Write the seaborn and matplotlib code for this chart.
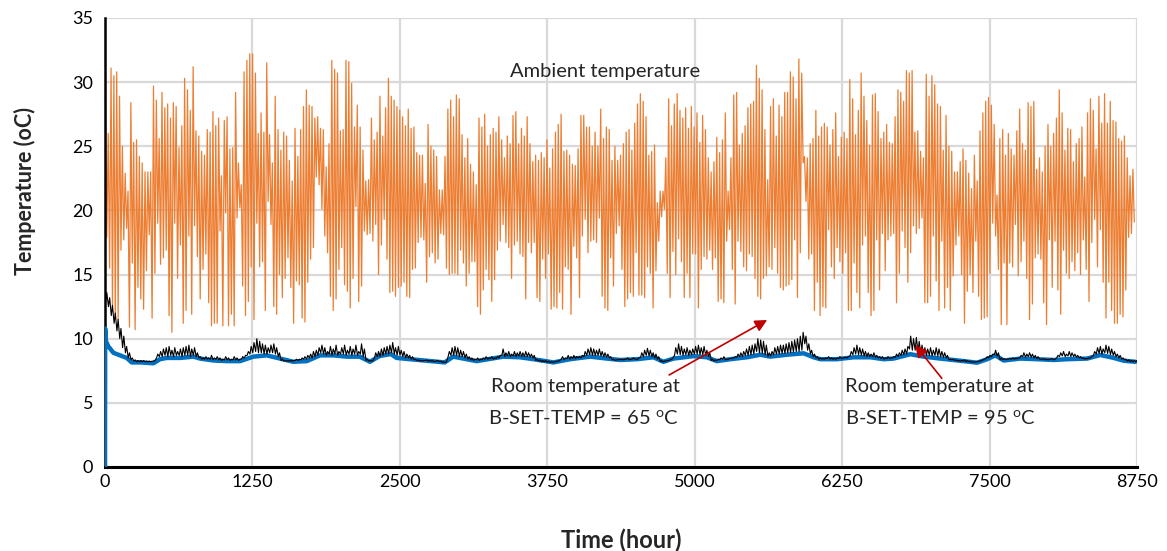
import numpy as np
import pandas as pd
import matplotlib
matplotlib.use("Agg")
import matplotlib.pyplot as plt
import seaborn as sns

# ---------------- data ----------------
# Ambient temperature: daily peak and daily trough (oC), one value per day
ambient_peaks = [
    30.5, 26.0, 31.1, 30.5, 30.8, 28.9, 25.0, 22.9, 21.5, 28.4,
    25.3, 25.5, 24.2, 23.7, 23.0, 23.0, 23.0, 29.7, 28.6, 25.6,
    29.2, 28.0, 28.3, 27.2, 28.4, 28.1, 24.9, 26.6, 30.3, 29.4,
    27.8, 31.2, 26.2, 25.8, 24.6, 24.3, 26.3, 26.1, 27.7, 26.6,
    27.2, 22.7, 27.0, 27.3, 24.8, 24.9, 29.2, 23.7, 22.0, 30.8,
    31.7, 32.2, 32.2, 30.7, 26.0, 27.6, 26.1, 31.5, 25.9, 23.7,
    28.9, 26.3, 24.7, 26.1, 25.8, 23.9, 22.3, 26.4, 24.2, 26.3,
    28.1, 29.4, 28.2, 28.1, 27.2, 27.3, 26.4, 26.3, 23.4, 25.2,
    31.7, 31.0, 30.7, 26.2, 26.3, 31.7, 31.6, 29.9, 26.5, 28.2,
    26.5, 24.7, 22.3, 22.4, 27.2, 25.5, 26.1, 28.9, 25.8, 28.0,
    30.3, 28.9, 28.6, 28.1, 27.8, 27.3, 26.6, 27.9, 26.4, 26.5,
    24.5, 24.3, 24.3, 22.1, 26.7, 25.0, 24.7, 24.2, 21.6, 21.6,
    24.2, 27.9, 28.6, 27.3, 29.0, 28.7, 25.9, 24.1, 25.6, 23.6,
    23.0, 22.0, 27.2, 26.5, 27.5, 25.0, 25.9, 26.4, 26.1, 27.3,
    25.5, 24.1, 25.8, 25.2, 27.4, 27.7, 25.2, 26.4, 25.8, 27.3,
    25.2, 23.8, 24.3, 23.9, 24.5, 24.1, 25.5, 23.3, 24.8, 26.1,
    26.7, 27.5, 24.6, 24.7, 24.3, 23.6, 23.5, 24.8, 27.4, 27.4,
    26.5, 26.5, 25.0, 26.1, 25.0, 27.9, 25.6, 26.5, 26.3, 23.9,
    25.0, 23.9, 24.3, 25.2, 26.1, 26.3, 24.7, 26.8, 28.3, 29.1,
    28.5, 27.3, 24.3, 24.6, 25.1, 20.6, 21.5, 21.5, 24.1, 28.7,
    26.6, 28.3, 29.1, 27.8, 27.2, 28.0, 26.4, 28.1, 26.5, 27.6,
    25.3, 27.4, 26.3, 24.1, 23.0, 23.8, 25.7, 24.5, 25.5, 27.6,
    21.5, 24.1, 29.0, 29.2, 25.1, 26.0, 26.6, 28.0, 28.3, 28.5,
    31.3, 30.3, 29.4, 26.3, 22.4, 28.1, 28.7, 25.8, 28.2, 27.3,
    29.2, 29.2, 30.8, 30.4, 28.7, 31.8, 30.7, 24.2, 24.1, 25.2,
    25.6, 27.8, 25.8, 26.5, 26.8, 26.5, 25.1, 26.3, 27.6, 24.2,
    25.7, 26.1, 25.6, 30.2, 28.7, 25.9, 27.8, 30.7, 28.9, 27.0,
    25.1, 29.0, 29.1, 27.7, 25.6, 26.1, 26.7, 25.3, 25.2, 27.3,
    29.4, 29.2, 28.5, 30.9, 30.7, 30.9, 26.1, 26.2, 24.6, 24.1,
    30.6, 28.9, 30.5, 29.8, 28.3, 28.1, 24.7, 27.4, 25.0, 24.6,
    23.0, 23.0, 23.8, 24.8, 23.9, 22.9, 21.7, 24.3, 22.3, 26.2,
    27.6, 28.5, 28.8, 28.2, 26.7, 21.2, 25.6, 26.3, 24.3, 26.0,
    24.8, 24.3, 26.2, 27.9, 25.2, 24.7, 28.4, 28.1, 28.5, 23.2,
    24.1, 23.0, 25.0, 26.7, 25.0, 26.0, 27.2, 29.4, 27.6, 24.7,
    26.4, 26.3, 23.8, 25.2, 25.6, 26.5, 22.6, 27.6, 28.7, 27.8,
    24.8, 28.9, 26.8, 29.1, 26.8, 28.5, 27.0, 26.9, 25.6, 25.4,
    25.8, 24.1, 22.7, 23.2,
]
ambient_troughs = [
    17.9, 15.5, 12.4, 11.8, 11.5, 16.9, 17.7, 18.6, 10.9, 15.9,
    10.7, 14.0, 13.1, 12.3, 15.3, 18.1, 11.6, 15.1, 19.0, 15.8,
    16.3, 16.9, 11.8, 10.5, 19.0, 14.7, 17.3, 11.2, 12.2, 18.0,
    11.9, 18.8, 16.4, 13.1, 15.4, 16.6, 12.8, 11.0, 11.2, 11.2,
    18.4, 11.0, 19.8, 11.0, 11.9, 11.0, 19.4, 20.2, 14.1, 11.8,
    12.9, 15.6, 11.5, 19.0, 15.6, 16.0, 12.2, 20.7, 18.9,
    12.5, 11.9, 15.0, 13.2, 14.7, 16.3, 14.0, 11.2, 14.5, 14.2,
    11.6, 11.3, 14.4, 16.2, 17.1, 22.6, 22.0, 20.1, 18.0, 16.7,
    13.3, 12.2, 13.1, 15.4, 17.1, 14.2, 13.7, 12.4, 14.7, 20.3,
    12.9, 14.1, 18.4, 18.1, 18.2, 17.6, 18.9, 15.0, 17.3, 19.3,
    16.2, 13.6, 13.7, 13.3, 14.0, 14.1, 14.4, 13.3, 13.2, 15.4,
    15.5, 17.5, 17.9, 17.7, 14.4, 16.4, 16.7, 15.9, 16.2, 18.2,
    18.1, 15.5, 15.0, 15.1, 15.1, 15.0, 16.9, 15.9, 14.1, 15.1,
    16.0, 16.0, 12.5, 11.9, 13.8, 15.4, 14.6, 12.9, 14.6, 16.9,
    17.6, 18.9, 17.5, 17.1, 14.7, 17.3, 17.6, 16.6, 16.4, 13.1,
    17.5, 16.7, 17.5, 13.2, 12.9, 16.2, 14.7, 16.6, 12.3, 12.5,
    12.4, 13.6, 12.3, 15.6, 15.4, 11.9, 17.2, 16.3, 13.2, 18.0,
    19.3, 16.7, 17.6, 17.7, 17.5, 19.4, 13.3, 12.4, 12.2, 16.3,
    14.1, 18.2, 18.8, 15.4, 12.5, 13.1, 13.6, 13.3, 16.7, 13.4,
    13.4, 13.2, 15.6, 15.1, 12.4, 15.3, 17.6, 19.5, 20.1, 15.1,
    13.2, 16.8, 15.0, 17.8, 16.0, 13.2, 15.1, 13.2, 16.6, 16.6,
    12.4, 15.4, 16.4, 16.2, 16.9, 15.4, 16.3, 12.9, 13.1, 12.8,
    17.6, 18.5, 15.4, 12.7, 17.6, 16.8, 15.6, 15.3, 16.6, 16.4,
    14.7, 13.3, 13.1, 14.7, 14.9, 15.6, 15.4, 17.1, 15.1, 14.0,
    13.8, 14.1, 14.2, 14.6, 17.7, 13.2, 16.7, 23.7, 20.7, 16.2,
    16.6, 12.2, 14.4, 11.8, 12.5, 12.4, 18.5, 15.6, 14.7, 17.1,
    16.0, 15.1, 16.7, 12.2, 12.2, 15.9, 13.6, 12.4, 17.3, 18.0,
    13.6, 11.8, 12.2, 17.7, 13.8, 18.2, 15.3, 17.7, 18.0, 18.2,
    12.8, 15.1, 18.4, 17.1, 14.4, 16.7, 18.8, 18.2, 18.6, 19.4,
    12.8, 12.8, 13.3, 18.0, 14.5, 12.2, 17.6, 12.4, 14.0, 12.2,
    14.9, 17.3, 18.0, 15.0, 11.2, 13.7, 15.0, 13.6, 17.6, 13.3,
    11.5, 11.6, 11.7, 15.1, 19.0, 18.0, 15.4, 11.1, 15.9, 11.1,
    15.9, 15.6, 18.9, 14.9, 16.0, 17.6, 14.7, 11.5, 12.7, 16.3,
    16.6, 16.2, 12.8, 11.1, 17.7, 14.0, 17.6, 13.8, 11.9, 16.9,
    15.1, 14.7, 16.0, 15.3, 16.7, 15.0, 17.7, 15.4, 12.9, 17.5,
    19.3, 15.6, 18.5, 14.4, 11.6, 14.4, 12.2, 11.2, 11.2, 11.9,
    11.7, 13.8, 17.9, 18.2, 19.1,
]

# Room temperature at B-SET-TEMP = 65 oC: daily max and min (oC)
room65_start = 13.7
room65_max = [
    13.6, 13.2, 12.6, 12.0, 11.5, 10.8, 10.2, 9.4, 8.9, 8.5,
    8.35, 8.3, 8.3, 8.3, 8.25, 8.25, 8.25, 8.3,
    8.8, 9.0, 9.2, 9.3, 9.4, 9.1, 9.3, 9.0, 9.2, 9.3, 9.4, 9.5, 9.2, 9.3, 8.9, 8.6,
    8.5, 8.6, 8.5, 8.7, 8.5, 8.6, 8.5, 8.4, 8.6, 8.5, 8.4, 8.6, 8.5, 8.4, 8.6, 8.7,
    9.0, 9.4, 9.7, 10.0, 9.8, 9.6, 9.5, 9.3, 9.5, 9.6, 9.3, 8.9,
    8.4, 8.3, 8.3, 8.3, 8.3, 8.4, 8.4,
    8.5, 8.6, 8.7, 8.8, 9.0, 9.1, 9.3,
    9.5, 9.3, 9.0, 9.4, 9.2, 9.5, 9.0, 9.3, 9.5, 9.1, 9.4, 9.2, 9.5, 9.0,
    9.6, 9.2,
    8.4, 8.3, 8.3,
    8.9, 9.0, 9.2, 9.3, 9.4, 9.5, 9.7,
    9.3, 9.4, 9.1, 9.0, 8.8, 8.7, 8.6,
    8.4, 8.35, 8.3, 8.3, 8.35, 8.3, 8.3, 8.25, 8.3, 8.25, 8.2, 8.2,
    9.0, 9.3, 9.4, 9.3, 9.1, 9.0, 8.8, 8.6,
    8.5, 8.4, 8.5, 8.4, 8.5, 8.6, 8.5, 8.6, 8.5, 8.6, 8.7,
    9.2, 8.9, 9.0, 8.8, 9.0, 8.9, 9.0, 8.9, 9.0, 8.9, 8.8, 8.7,
    8.4, 8.35, 8.3, 8.3, 8.25, 8.2, 8.2, 8.25, 8.3,
    8.6, 8.5, 8.7, 8.6, 8.7, 8.6, 8.6, 8.7,
    9.0, 9.2, 9.3, 9.2, 9.1, 9.2, 9.0, 8.9, 8.8, 8.6,
    8.4, 8.35, 8.4, 8.4, 8.4, 8.5, 8.4, 8.5, 8.4, 8.5,
    8.9, 9.1, 9.25, 9.1, 8.9, 8.8, 8.6,
    8.3, 8.25, 8.3, 8.35, 8.5,
    9.3, 9.6, 9.4, 9.2, 9.3, 9.1, 9.2, 9.4, 9.5, 9.3, 9.4, 9.1, 8.9,
    8.4, 8.35, 8.4, 8.5, 8.6, 8.4, 8.45, 8.5, 8.6,
    8.8, 8.9, 9.0, 9.2, 9.4, 9.5, 9.6,
    10.0, 9.9, 9.8, 9.5, 8.9, 9.0,
    9.3, 9.4, 9.5, 9.5, 9.6, 9.7, 9.8, 9.9, 10.0, 10.2, 10.5,
    10.2, 9.6, 9.1, 8.8, 8.6,
    8.5, 8.45, 8.5, 8.6, 8.5, 8.45, 8.5, 8.6, 8.5, 8.55, 8.6,
    9.0, 9.3, 9.5, 9.3, 9.2, 9.0,
    8.9, 8.8, 8.9, 8.7, 8.6,
    8.6, 8.5, 8.6, 8.5, 8.6,
    8.8, 8.9, 9.1, 9.2, 9.4,
    10.2, 10.0, 10.1, 9.8,
    9.5, 9.3, 9.2,
    9.3, 9.1, 9.3, 9.2, 9.0, 8.9, 8.7,
    8.4, 8.4, 8.35, 8.3, 8.3, 8.35, 8.3, 8.25, 8.2, 8.2, 8.25, 8.3, 8.4,
    8.6, 8.7, 8.8, 9.1, 8.9,
    8.5, 8.45, 8.4, 8.45, 8.5, 8.45, 8.5,
    8.7, 8.9, 8.8, 8.9, 8.8, 8.7, 8.6,
    8.4, 8.45, 8.4, 8.4, 8.45, 8.4,
    8.7, 8.9, 9.0, 8.8, 9.0, 8.9, 8.8, 8.7, 8.6,
    8.5, 8.45, 8.5, 8.6,
    9.0, 9.3, 9.4, 9.2, 9.5, 9.4, 9.2, 9.0,
    8.8, 8.7, 8.5, 8.4,
    8.35, 8.3, 8.3, 8.3,
]
room65_min = [
    12.9, 12.5, 11.8, 11.2, 10.6, 10.0, 9.3, 8.9, 8.5, 8.35,
    8.25, 8.2, 8.2, 8.2, 8.2, 8.2, 8.2, 8.25,
    8.5, 8.6, 8.6, 8.7, 8.6, 8.7, 8.6, 8.7, 8.7, 8.6, 8.7, 8.7, 8.6, 8.7, 8.6, 8.5,
    8.4, 8.4, 8.4, 8.4, 8.35, 8.4, 8.35, 8.3, 8.35, 8.35, 8.3, 8.35, 8.35, 8.3, 8.4, 8.5,
    8.7, 8.8, 8.9, 9.0, 8.9, 8.9, 8.8, 8.8, 8.9, 8.9, 8.8, 8.6,
    8.3, 8.25, 8.25, 8.25, 8.25, 8.3, 8.3,
    8.35, 8.4, 8.4, 8.5, 8.5, 8.6, 8.7,
    8.9, 8.8, 8.7, 8.8, 8.7, 8.8, 8.7, 8.8, 8.8, 8.7, 8.8, 8.7, 8.8, 8.7,
    8.8, 8.6,
    8.3, 8.25, 8.25,
    8.5, 8.6, 8.6, 8.7, 8.8, 8.8, 8.9,
    8.8, 8.7, 8.7, 8.6, 8.5, 8.5, 8.4,
    8.35, 8.3, 8.25, 8.25, 8.3, 8.25, 8.25, 8.2, 8.25, 8.2, 8.15, 8.15,
    8.6, 8.7, 8.7, 8.7, 8.6, 8.6, 8.5, 8.4,
    8.35, 8.3, 8.35, 8.3, 8.35, 8.4, 8.4, 8.45, 8.4, 8.45, 8.5,
    8.7, 8.6, 8.65, 8.6, 8.65, 8.6, 8.65, 8.6, 8.6, 8.6, 8.55, 8.5,
    8.3, 8.25, 8.2, 8.2, 8.15, 8.15, 8.15, 8.2, 8.25,
    8.4, 8.35, 8.45, 8.4, 8.45, 8.45, 8.5, 8.5,
    8.6, 8.7, 8.75, 8.7, 8.7, 8.7, 8.65, 8.6, 8.55, 8.5,
    8.35, 8.3, 8.35, 8.35, 8.35, 8.4, 8.35, 8.4, 8.4, 8.4,
    8.55, 8.6, 8.7, 8.65, 8.6, 8.5, 8.4,
    8.2, 8.2, 8.25, 8.3, 8.4,
    8.7, 8.8, 8.75, 8.7, 8.75, 8.7, 8.75, 8.8, 8.8, 8.75, 8.75, 8.7, 8.6,
    8.3, 8.25, 8.3, 8.35, 8.4, 8.35, 8.4, 8.45, 8.5,
    8.55, 8.6, 8.6, 8.7, 8.7, 8.75, 8.8,
    9.0, 8.9, 8.85, 8.75, 8.6, 8.65,
    8.75, 8.8, 8.8, 8.85, 8.85, 8.9, 8.9, 8.95, 9.0, 9.0, 9.1,
    9.6, 9.1, 8.8, 8.6, 8.5,
    8.4, 8.4, 8.4, 8.45, 8.4, 8.4, 8.4, 8.45, 8.45, 8.5, 8.5,
    8.65, 8.75, 8.8, 8.75, 8.7, 8.65,
    8.6, 8.6, 8.6, 8.55, 8.5,
    8.45, 8.4, 8.45, 8.45, 8.5,
    8.55, 8.6, 8.7, 8.75, 8.8,
    9.2, 9.1, 9.1, 9.0,
    8.8, 8.75, 8.7,
    8.7, 8.65, 8.7, 8.65, 8.6, 8.55, 8.5,
    8.35, 8.35, 8.3, 8.25, 8.25, 8.25, 8.2, 8.2, 8.15, 8.15, 8.2, 8.25, 8.35,
    8.45, 8.5, 8.6, 8.75, 8.65,
    8.35, 8.35, 8.35, 8.4, 8.4, 8.4, 8.45,
    8.5, 8.6, 8.55, 8.6, 8.55, 8.5, 8.45,
    8.4, 8.4, 8.35, 8.35, 8.4, 8.35,
    8.5, 8.6, 8.65, 8.6, 8.65, 8.6, 8.6, 8.55, 8.5,
    8.45, 8.4, 8.45, 8.5,
    8.7, 8.8, 8.85, 8.8, 8.9, 8.85, 8.75, 8.7,
    8.6, 8.5, 8.4, 8.35,
    8.25, 8.2, 8.2, 8.2,
]

# Room temperature at B-SET-TEMP = 95 oC (hour, oC)
room95_hours = [
    0, 1, 8, 28, 71, 127, 184, 226, 297, 410,
    466, 523, 636, 749, 806, 919, 1032, 1145, 1258, 1371,
    1484, 1597, 1710, 1823, 1936, 2050, 2160, 2246, 2328, 2424,
    2472, 2587, 2729, 2880, 2952, 3038, 3151, 3377, 3518, 3634,
    3802, 3943, 4114, 4255, 4368, 4509, 4650, 4735, 4820, 4990,
    5103, 5188, 5301, 5442, 5556, 5640, 5782, 5923, 6008, 6065,
    6206, 6347, 6489, 6602, 6686, 6828, 6941, 7082, 7253, 7394,
    7479, 7549, 7620, 7762, 7903, 8043, 8158, 8328, 8439, 8553,
    8638, 8736,
]
room95_values = [
    0.0, 10.8, 9.8, 9.4, 8.9, 8.7, 8.5, 8.15, 8.15, 8.08,
    8.4, 8.5, 8.5, 8.6, 8.45, 8.3, 8.25, 8.25, 8.6, 8.7,
    8.45, 8.2, 8.25, 8.7, 8.7, 8.6, 8.6, 8.2, 8.65, 8.8,
    8.5, 8.4, 8.28, 8.15, 8.6, 8.45, 8.25, 8.6, 8.55, 8.4,
    8.15, 8.4, 8.6, 8.45, 8.34, 8.4, 8.55, 8.2, 8.45, 8.64,
    8.55, 8.25, 8.4, 8.55, 8.75, 8.6, 8.75, 8.86, 8.55, 8.4,
    8.4, 8.55, 8.55, 8.4, 8.45, 8.79, 8.6, 8.45, 8.28, 8.13,
    8.4, 8.7, 8.3, 8.45, 8.4, 8.34, 8.4, 8.45, 8.73, 8.5,
    8.28, 8.2,
]

x_ticks = [0, 1250, 2500, 3750, 5000, 6250, 7500, 8750]
y_ticks = [0, 5, 10, 15, 20, 25, 30, 35]

# ---------------- assemble hourly series ----------------
amb_h, amb_v = [], []
for d, (p, t) in enumerate(zip(ambient_peaks, ambient_troughs)):
    amb_h += [24 * d + 3, 24 * d + 15]
    amb_v += [p, t]
amb_df = pd.DataFrame({"hour": amb_h, "temp": amb_v})

r65_h, r65_v = [0], [room65_start]
for d, (mx, mn) in enumerate(zip(room65_max, room65_min)):
    r65_h += [24 * d + 5, 24 * d + 15]
    r65_v += [mn, mx]
r65_df = pd.DataFrame({"hour": r65_h, "temp": r65_v})

r95_df = pd.DataFrame({"hour": room95_hours, "temp": room95_values})

# ---------------- style ----------------
sns.set_style("whitegrid")
plt.rcParams["font.family"] = ["Lato", "DejaVu Sans"]
plt.rcParams["mathtext.fontset"] = "custom"
plt.rcParams["mathtext.rm"] = "Lato"

fig = plt.figure(figsize=(11.67, 5.51), dpi=100)
ax = fig.add_axes([0.0900, 0.1525, 0.8843, 0.8149])

sns.lineplot(data=amb_df, x="hour", y="temp", estimator=None, sort=False,
             color="#ED7D31", lw=0.9, ax=ax, zorder=2)
sns.lineplot(data=r95_df, x="hour", y="temp", estimator=None, sort=False,
             color="#0070C0", lw=3.2, ax=ax, zorder=3)
sns.lineplot(data=r65_df, x="hour", y="temp", estimator=None, sort=False,
             color="black", lw=0.8, ax=ax, zorder=4)

ax.set_xlim(0, 8750)
ax.set_ylim(0, 35)
ax.set_xticks(x_ticks)
ax.set_yticks(y_ticks)
ax.set_xticklabels([str(v) for v in x_ticks])
ax.set_yticklabels([str(v) for v in y_ticks])
ax.grid(True, color="#D9D9D9", lw=1.6)
ax.set_axisbelow(True)

for s in ["top", "right"]:
    ax.spines[s].set_visible(False)
ax.spines["left"].set_color("black")
ax.spines["left"].set_linewidth(1.8)
ax.spines["bottom"].set_color("black")
ax.spines["bottom"].set_linewidth(2.2)
ax.tick_params(axis="both", which="major", direction="out", length=5,
               width=1.2, color="black", labelsize=13, labelcolor="black")
ax.tick_params(axis="x", length=3, pad=2)

ax.set_xlabel("Time (hour)", fontsize=17, fontweight="bold")
ax.set_ylabel("Temperature (oC)", fontsize=15.5, fontweight="bold")
ax.xaxis.set_label_coords(0.5, -0.163)
ax.yaxis.set_label_coords(-0.0775, 0.615)
ax.xaxis.label.set_va("center")
ax.yaxis.label.set_va("center")

# annotations
fs = 14.5
ax.text(4240, 30.8, "Ambient temperature", fontsize=fs, ha="center", va="center")
ax.text(4070, 6.3, "Room temperature at", fontsize=fs, ha="center", va="center")
ax.text(4060, 3.8, r"B-SET-TEMP = 65 $^{\mathrm{o}}$C", fontsize=fs, ha="center", va="center")
ax.text(7073, 6.3, "Room temperature at", fontsize=fs, ha="center", va="center")
ax.text(7080, 3.8, r"B-SET-TEMP = 95 $^{\mathrm{o}}$C", fontsize=fs, ha="center", va="center")

ax.annotate("", xy=(5614, 11.46), xytext=(4783, 7.17),
            arrowprops=dict(arrowstyle="-|>", color="#C00000", lw=1.2,
                            mutation_scale=18, shrinkA=0, shrinkB=0), zorder=6)
ax.annotate("", xy=(6869, 9.5), xytext=(7095, 6.91),
            arrowprops=dict(arrowstyle="-|>", color="#C00000", lw=1.2,
                            mutation_scale=18, shrinkA=0, shrinkB=0), zorder=6)

fig.savefig("out.png", dpi=100)
